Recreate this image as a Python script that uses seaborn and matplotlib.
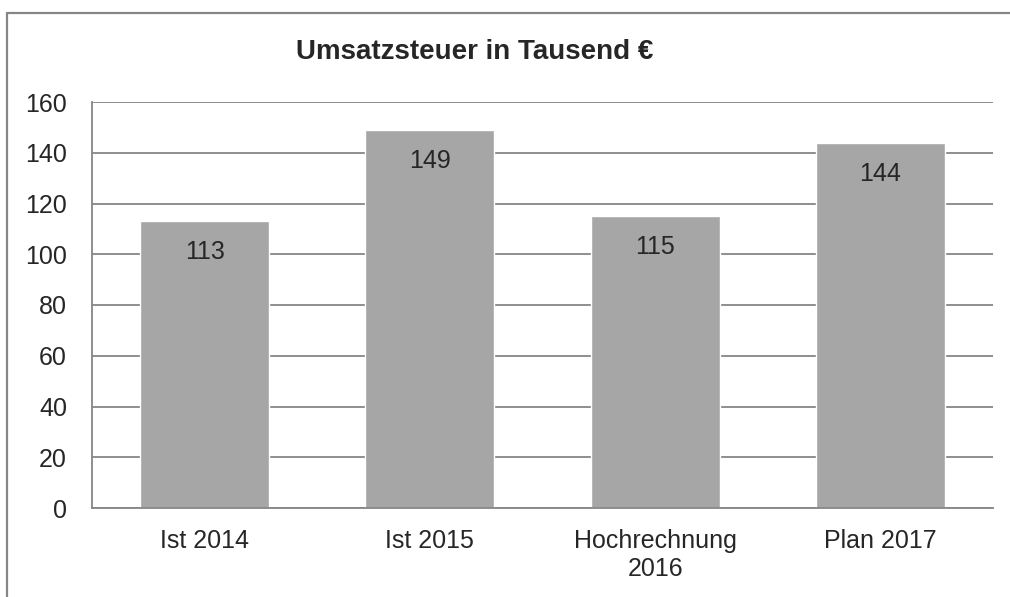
import matplotlib
matplotlib.use("Agg")
import matplotlib.pyplot as plt
import matplotlib.transforms as mtransforms
import seaborn as sns
import pandas as pd
from matplotlib.lines import Line2D

categories = ["Ist 2014", "Ist 2015", "Hochrechnung\n2016", "Plan 2017"]
values = [113, 149, 115, 144]
yticks = [0, 20, 40, 60, 80, 100, 120, 140, 160]
title = "Umsatzsteuer in Tausend €"

sns.set_theme(style="white")
plt.rcParams["font.family"] = ["Liberation Sans", "DejaVu Sans"]

W, H = 1010, 597
fig = plt.figure(figsize=(W / 100, H / 100), dpi=100)
ax = fig.add_axes([92 / W, 1 - 508 / H, (993 - 92) / W, (508 - 102) / H])

df = pd.DataFrame({"cat": categories, "val": values})
sns.barplot(data=df, x="cat", y="val", color="#a6a6a6", saturation=1,
            width=0.573, ax=ax, zorder=2)

text_color = "#262626"
grid_color = "#868686"
fs = 18
ax.set_ylim(0, 160)
ax.set_xlim(-0.5, len(categories) - 0.5)
ax.set_yticks(yticks)
ax.set_yticklabels([str(t) for t in yticks], fontsize=fs, color=text_color)
ax.set_xticks(range(len(categories)))
ax.set_xticklabels(categories, fontsize=fs, color=text_color, linespacing=1.22)
ax.tick_params(axis="both", length=0)
ax.tick_params(axis="y", pad=18)
ax.tick_params(axis="x", pad=15)
ax.set_xlabel("")
ax.set_ylabel("")
ax.yaxis.grid(True, color=grid_color, linewidth=1.3, zorder=0)
ax.set_axisbelow(True)
for s in ["top", "right"]:
    ax.spines[s].set_visible(False)
for s in ["left", "bottom"]:
    ax.spines[s].set_color(grid_color)
    ax.spines[s].set_linewidth(1.3)

offset = mtransforms.ScaledTranslation(0, -31 / 100, fig.dpi_scale_trans)
for i, v in enumerate(values):
    ax.text(i, v, str(v), ha="center", va="center", fontsize=fs, color=text_color,
            transform=ax.transData + offset)

fig.text(475 / W, 1 - 52 / H, title, ha="center", va="center",
         fontsize=20, fontweight="bold", color=text_color)

# outer border (top and left)
fig.add_artist(Line2D([6.5 / W, 6.5 / W], [0, 1 - 13 / H], transform=fig.transFigure,
                      color=grid_color, linewidth=1.6))
fig.add_artist(Line2D([6.5 / W, 1], [1 - 13 / H, 1 - 13 / H], transform=fig.transFigure,
                      color=grid_color, linewidth=1.6))

fig.savefig("out.png", dpi=100)
